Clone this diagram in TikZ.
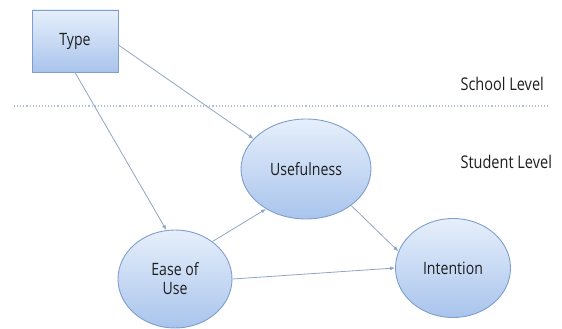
\documentclass[tikz,border=0pt]{standalone}
\usepackage{fontspec}
\setmainfont[FakeStretch=0.83]{Open Sans}
\usepackage{xcolor}
\usepackage{tikz}
\usetikzlibrary{calc, positioning, arrows.meta, shapes.geometric}
\definecolor{fillTop}{HTML}{E6EFFB}
\definecolor{fillBot}{HTML}{A9C4EC}
\definecolor{edgeBlue}{HTML}{7F9ECF}
\definecolor{arrowGray}{HTML}{8FA5C6}
\definecolor{textGray}{HTML}{1E1E1E}
\tikzset{
    factor/.style={ellipse, draw=edgeBlue, line width=0.9pt, top color=fillTop, bottom color=fillBot, align=center, inner sep=0pt, font=\fontsize{17}{19}\selectfont, text=textGray},
    box/.style={rectangle, draw=edgeBlue, line width=0.9pt, top color=fillTop, bottom color=fillBot, align=center, minimum width=86pt, minimum height=62pt, font=\fontsize{17}{19}\selectfont, text=textGray},
    level/.style={font=\fontsize{17.5}{19}\selectfont, text=textGray, anchor=west},
    divider/.style={dotted, line width=1.1pt, color=arrowGray!70},
    arrow/.style={-{Latex[length=5pt, width=4pt]}, line width=0.8pt, color=arrowGray}
}
\begin{document}
\begin{tikzpicture}[x=1pt, y=-1pt]
        \useasboundingbox (0,0) rectangle (562,329);
        % Nodes
        \node[box] (T) at (75,41) {Type};
        \node[factor, minimum width=130pt, minimum height=100pt] (U) at (306,169) {Usefulness};
        \node[factor, minimum width=114pt, minimum height=98pt] (E) at (175,279) {Ease of\\Use};
        \node[factor, minimum width=115pt, minimum height=99pt] (I) at (453,268) {Intention};
        
        % Levels
        \node[level] (school) at (457,84) {School Level};
        \node[level] (student) at (457,162) {Student Level};
        \coordinate (divL) at (14,106);
        \coordinate (divR) at (549,106);
        \draw[divider] (divL) -- (divR);
        
        % Edges
        \draw[arrow] ($(T.east)+(0,4)$) -- (U.150);
        \draw[arrow] (T.south) -- (E.100);
        \draw[arrow] (E.45) -- (U.225);
        \draw[arrow] (E.east) -- (I.west);
        \draw[arrow] (U.-39) -- (I.163);
        
    \end{tikzpicture}
\end{document}
